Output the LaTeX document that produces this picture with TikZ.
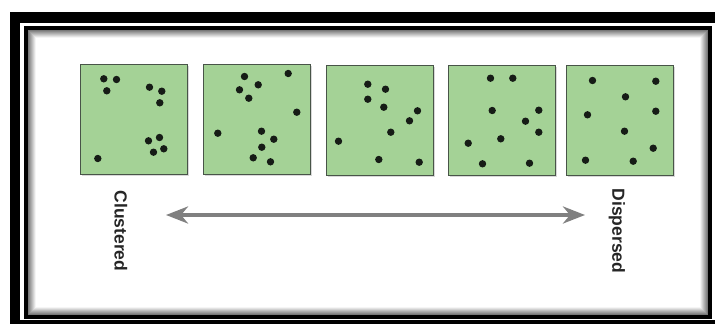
\documentclass[tikz,border=0pt]{standalone}
\usepackage{fontspec}
\setmainfont{Liberation Sans}
\usepackage{tikz}
\usetikzlibrary{calc,shadows,arrows.meta}

\definecolor{quadgreen}{RGB}{164,210,150}
\definecolor{quadedge}{RGB}{72,84,72}
\definecolor{dotblack}{RGB}{22,28,22}
\definecolor{spangray}{RGB}{128,128,128}

\tikzset{
  quadrat/.style={draw=quadedge,line width=1pt,fill=quadgreen,minimum width=107pt,minimum height=110pt,inner sep=0pt,
    drop shadow={shadow xshift=1.5pt,shadow yshift=-1.5pt,opacity=.3}},
  endlabel/.style={rotate=-90,font=\bfseries\fontsize{17.5}{20}\selectfont,text=black!85,inner sep=0pt},
  spanarrow/.style={draw=spangray,line width=4.5pt,
    {Stealth[length=22pt,width=17pt,inset=7pt]}-{Stealth[length=22pt,width=17pt,inset=7pt]}}
}
\newcommand{\scatterdots}[2]{\foreach \px/\py in {#2} \fill[dotblack] ($(#1.north west)+(\px,\py)$) circle (3.7pt);}

\begin{document}
\begin{tikzpicture}[x=1pt,y=-1pt]
        \useasboundingbox (0,0) rectangle (715,324);
        \clip (0,0) rectangle (715,324);
        \fill[white] (0,0) rectangle (715,324);
        % frame
        \draw[line width=10.5pt] (14.75,17.5) rectangle (721.25,325.25);
        \draw[line width=4pt] (25.5,28) rectangle (709.5,316.5);
        \foreach \k [evaluate=\k as \op using 0.6-0.07*\k] in {1,...,8}
          \draw[black,opacity=\op,line width=1pt] (27+\k,29.5+\k) rectangle (708-\k,315-\k);
        % quadrats
        \node[quadrat] (q1) at (133.5,119) {};
        \node[quadrat] (q2) at (256.5,119) {};
        \node[quadrat] (q3) at (379.5,120) {};
        \node[quadrat] (q4) at (501.5,120) {};
        \node[quadrat] (q5) at (619.5,120) {};
        \scatterdots{q1}{24.3/15.3,37/16,27.3/27.3,70/23.7,82.3/27.7,80.3/39.3,80/74,69/77.3,84.3/85.3,74/88.7,18.3/95}
        \scatterdots{q2}{42/13,85.7/10,55.7/21.3,37/26.3,46.3/34.7,94.3/48.7,15.3/69.7,59/67.7,71.3/75.7,59.3/83.7,50.7/94.3,68/98.3}
        \scatterdots{q3}{42.3/19.7,60/24.7,42.3/34.7,58.3/42.7,92/46.3,84/56.3,65.3/67.7,13/76.7,53.3/95,93.7/97.7}
        \scatterdots{q4}{43/13.7,65.3/13.7,44.7/46,91.3/45.7,78/56.7,91.3/67.7,53.3/74.3,20.7/78.7,35/99.3,82/98.7}
        \scatterdots{q5}{27/16,90.3/16.7,60/32.3,22/50.3,90.3/46.7,59/66.7,87.7/83.7,20/95.7,67.7/96.7}
        % scale
        \node[endlabel] (clus) at (121,231) {Clustered};
        \node[endlabel] (disp) at (617,231) {Dispersed};
        \coordinate (spanL) at (166,215);
        \coordinate (spanR) at (585,215);
        \draw[spanarrow] (spanL) -- (spanR);
\end{tikzpicture}
\end{document}
